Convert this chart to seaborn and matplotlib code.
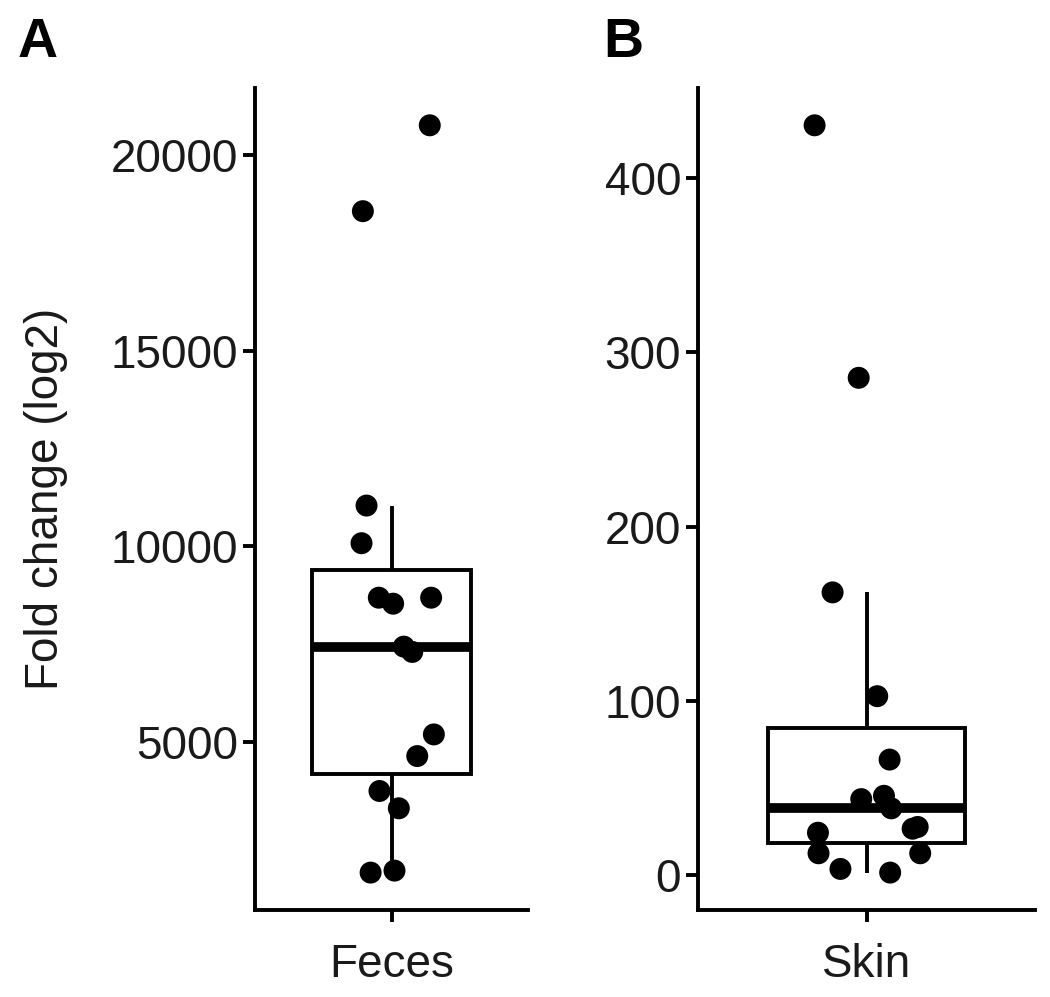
import numpy as np
import pandas as pd
import matplotlib
matplotlib.use("Agg")
import matplotlib.pyplot as plt
import seaborn as sns

# ---- data ----
feces_values = [20766, 18571, 11046, 10084, 8691, 8538, 8691, 7440, 7304,
                5196, 4643, 3750, 3308, 1664, 1715]
feces_jitter = [0.168, -0.126, -0.110, -0.132, -0.056, 0.007, 0.174, 0.054, 0.091,
                0.186, 0.113, -0.053, 0.032, -0.092, 0.013]

skin_values = [430.4, 285.4, 162.2, 102.6, 66.2, 45.4, 43.5, 38.2, 27.5, 26.5,
               24.2, 12.4, 12.4, 3.4, 1.3]
skin_jitter = [-0.185, -0.028, -0.121, 0.038, 0.082, 0.062, -0.019, 0.088, 0.182, 0.164,
               -0.173, -0.171, 0.191, -0.093, 0.084]

feces_ticks = [5000, 10000, 15000, 20000]
skin_ticks = [0, 100, 200, 300, 400]
panel_labels = ["A", "B"]
site_names = ["Feces", "Skin"]
y_label = "Fold change (log2)"

sns.set_theme(style="ticks")
plt.rcParams["font.family"] = ["Liberation Sans", "DejaVu Sans"]

LW = 2.8
TXT = "#1a1a1a"

fig = plt.figure(figsize=(10.5, 9.97), dpi=100)
ax1 = fig.add_axes([0.2429, 0.0873, 0.260, 0.8245])
ax2 = fig.add_axes([0.6648, 0.0873, 0.321, 0.8245])


def draw(ax, name, values, jitter, ticks):
    df = pd.DataFrame({"site": [name] * len(values), "value": values})
    sns.boxplot(data=df, x="site", y="value", ax=ax, width=0.7,
                color="white", linecolor="black", linewidth=LW,
                showcaps=False, showfliers=False, whis=1.5,
                medianprops=dict(linewidth=7, color="black"))
    pts = pd.DataFrame({"pos": jitter, "value": values})
    sns.scatterplot(data=pts, x="pos", y="value", ax=ax, s=250, color="black",
                    edgecolor="none", linewidth=0, zorder=5)
    ax.set_xlim(-0.6, 0.6)
    ax.set_xticks([0])
    ax.set_xticklabels([name])
    lo, hi = min(values), max(values)
    pad = 0.05 * (hi - lo)
    ax.set_ylim(lo - pad, hi + pad)
    ax.set_yticks(ticks)
    ax.set_yticklabels([str(t) for t in ticks])
    ax.set_xlabel("")
    ax.set_ylabel("")
    for s in ["top", "right"]:
        ax.spines[s].set_visible(False)
    for s in ["left", "bottom"]:
        ax.spines[s].set_linewidth(LW)
        ax.spines[s].set_color("black")
        ax.spines[s].set_capstyle("projecting")
    ax.tick_params(axis="both", direction="out", length=8.6, width=LW,
                   color="black", labelsize=33, labelcolor=TXT)
    ax.tick_params(axis="y", pad=3.6)
    ax.tick_params(axis="x", pad=15)
    ax.set_facecolor("white")


draw(ax1, site_names[0], feces_values, feces_jitter, feces_ticks)
draw(ax2, site_names[1], skin_values, skin_jitter, skin_ticks)

ax1.set_ylabel(y_label, fontsize=33, color=TXT, labelpad=31)

fig.text(18 / 1050, 1 - 57 / 997, panel_labels[0], fontsize=40, fontweight="bold",
         ha="left", va="baseline", color="black")
fig.text(603 / 1050, 1 - 57 / 997, panel_labels[1], fontsize=40, fontweight="bold",
         ha="left", va="baseline", color="black")

fig.savefig("out.png", dpi=100, facecolor="white")
